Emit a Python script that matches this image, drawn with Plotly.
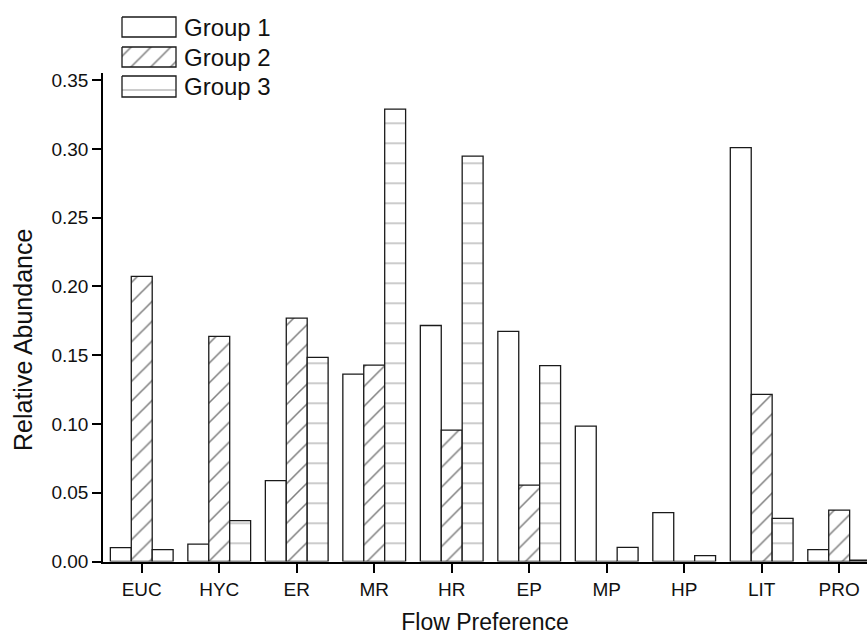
import plotly.graph_objects as go

categories = ["EUC", "HYC", "ER", "MR", "HR", "EP", "MP", "HP", "LIT", "PRO"]
group1 = [0.0101, 0.0127, 0.0588, 0.1363, 0.1716, 0.1673, 0.0984, 0.0355, 0.3010, 0.0086]
group2 = [0.2073, 0.1637, 0.1770, 0.1428, 0.0956, 0.0555, 0.0, 0.0, 0.1215, 0.0374]
group3 = [0.0086, 0.0297, 0.1484, 0.3290, 0.2948, 0.1424, 0.0103, 0.0042, 0.0314, 0.0010]
series_names = ["Group 1", "Group 2", "Group 3"]
y_ticks = [0.00, 0.05, 0.10, 0.15, 0.20, 0.25, 0.30, 0.35]

W, H = 867, 635
FONT = "Liberation Sans, Arial, sans-serif"
OUT = "#1a1a1a"

patterns = [
    dict(shape=""),
    dict(shape="/", size=14, solidity=0.11, fgcolor="#000000", bgcolor="white"),
    dict(shape="-", size=20, solidity=0.06, fgcolor="#555555", bgcolor="white"),
]

fig = go.Figure()
xs = list(range(len(categories)))
for name, vals, pat in zip(series_names, [group1, group2, group3], patterns):
    fig.add_trace(go.Bar(
        x=xs, y=vals, name=name, showlegend=False,
        marker=dict(color="white", line=dict(color=OUT, width=1.3), pattern=pat),
        xaxis="x", yaxis="y",
    ))

# custom legend keys on a full-figure overlay axis (pixel coordinates)
key_x0, key_x1 = 122, 176
key_rows = [(17, 37), (47, 67), (76, 97)]
for name, (y0, y1), pat in zip(series_names, key_rows, patterns):
    fp = dict(pat)
    fig.add_trace(go.Scatter(
        x=[key_x0, key_x1, key_x1, key_x0, key_x0],
        y=[y0, y0, y1, y1, y0],
        mode="lines", fill="toself", fillcolor="white",
        fillpattern=fp if fp.get("shape") else None,
        line=dict(color=OUT, width=1.3),
        xaxis="x2", yaxis="y2", showlegend=False, hoverinfo="skip",
    ))
    fig.add_annotation(
        x=182 / W, y=1 - ((y0 + y1) / 2) / H, xref="paper", yref="paper",
        text=name, showarrow=False, xanchor="left", yanchor="middle",
        font=dict(family=FONT, size=24, color="#111"),
    )

# y-axis title placed as rotated annotation
fig.add_annotation(
    x=23 / W, y=1 - 340 / H, xref="paper", yref="paper",
    text="Relative Abundance", textangle=-90, showarrow=False,
    xanchor="center", yanchor="middle",
    font=dict(family=FONT, size=25, color="#111"),
)

x_left = 103
y_top_px, y_bot_px = 73.3, 561.5

fig.update_layout(
    width=W, height=H,
    margin=dict(l=0, r=0, t=0, b=0, autoexpand=False),
    paper_bgcolor="white", plot_bgcolor="rgba(0,0,0,0)",
    barmode="group", bargap=0.19, bargroupgap=0,
    font=dict(family=FONT, color="#111"),
    xaxis=dict(
        domain=[x_left / W, 1], range=[-0.5, 9.359],
        tickmode="array", tickvals=xs, ticktext=categories,
        showline=True, linecolor="black", linewidth=1.6,
        ticks="outside", ticklen=10, tickwidth=1.5, tickcolor="black",
        showgrid=False, zeroline=False,
        tickfont=dict(family=FONT, size=19, color="#111"),
        title=dict(text="Flow Preference", font=dict(family=FONT, size=23, color="#111"), standoff=16),
    ),
    yaxis=dict(
        domain=[1 - y_bot_px / H, 1 - y_top_px / H], range=[0, 0.355],
        tickmode="array", tickvals=y_ticks, ticktext=[f"{v:.2f}" for v in y_ticks],
        showline=True, linecolor="black", linewidth=1.6,
        ticks="outside", ticklen=9, tickwidth=1.5, tickcolor="black",
        showgrid=False, zeroline=False,
        tickfont=dict(family=FONT, size=19, color="#111"),
    ),
    xaxis2=dict(domain=[0, 1], range=[0, W], visible=False, fixedrange=True, anchor="y2"),
    yaxis2=dict(domain=[0, 1], range=[H, 0], visible=False, fixedrange=True, anchor="x2"),
)

fig.write_html("out.html", config={"displayModeBar": False},
               post_script="document.body.style.margin='0';")
